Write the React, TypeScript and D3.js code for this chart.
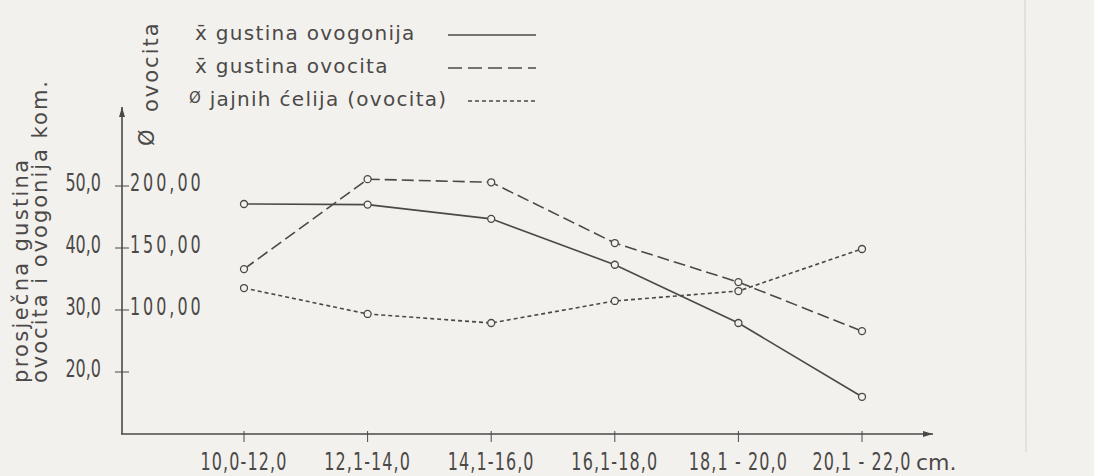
import React, { useEffect, useRef } from 'react'
import * as d3 from 'd3'

// size classes (cm) on the x axis
const categories = ['10,0-12,0', '12,1-14,0', '14,1-16,0', '16,1-18,0', '18,1 - 20,0', '20,1 - 22,0']
// mean density (kom.), left axis
const ovogonija = [47.1, 47.0, 44.7, 37.3, 27.9, 16.0]
const ovocita = [36.6, 51.1, 50.6, 40.8, 34.5, 26.6]
// mean egg cell diameter, right scale
const promjer = [117.7, 96.8, 89.5, 107.3, 115.3, 149.2]

const leftTicks = [20, 30, 40, 50]
const leftTickLabels = ['20,0', '30,0', '40,0', '50,0']
const rightTicks = [100, 150, 200]
const rightTickLabels = ['100,00', '150,00', '200,00']
const legendLabels = ['x̄ gustina ovogonija', 'x̄ gustina ovocita', 'jajnih ćelija (ovocita)']

export default function App() {
    const ref = useRef<SVGSVGElement>(null)

    useEffect(() => {
        const svg = d3.select(ref.current)
        svg.selectAll('*').remove()

        const W = 1094, H = 476
        const ink = '#4b4947'
        const paper = '#f3f1ee'
        const textFont = "'DejaVu Sans', sans-serif"
        const numFont = "'DejaVu Sans Condensed', 'DejaVu Sans', sans-serif"
        const sq = 0.74 // lettering digits are tall and narrow

        svg.append('rect').attr('width', W).attr('height', H).attr('fill', paper)
        // faint rule showing through the page
        svg.append('line').attr('x1', 1025).attr('x2', 1026).attr('y1', 0).attr('y2', 452)
            .attr('stroke', '#d9d6d2').attr('stroke-width', 1.2)

        const x = d3.scalePoint<string>().domain(categories).range([244, 862])
        const y = d3.scaleLinear().domain([10, 50]).range([434, 186])
        const yd = d3.scaleLinear().domain([0, 200]).range([434, 186])

        const defs = svg.append('defs')
        defs.append('marker')
            .attr('id', 'arrow')
            .attr('viewBox', [0, 0, 10, 6])
            .attr('refX', 10)
            .attr('refY', 3)
            .attr('markerWidth', 10)
            .attr('markerHeight', 6)
            .attr('markerUnits', 'userSpaceOnUse')
            .attr('orient', 'auto')
            .append('path')
            .attr('d', 'M0,0 L10,3 L0,6 z')
            .attr('fill', ink)

        const x0 = 122, yBase = 434
        // axes
        svg.append('path')
            .attr('d', d3.line()([[x0, yBase], [x0, 107]]))
            .attr('stroke', ink).attr('stroke-width', 1.6).attr('fill', 'none')
            .attr('marker-end', 'url(#arrow)')
        svg.append('path')
            .attr('d', d3.line()([[x0 - 1, yBase], [933, yBase]]))
            .attr('stroke', ink).attr('stroke-width', 1.6).attr('fill', 'none')
            .attr('marker-end', 'url(#arrow)')

        // x ticks + labels
        svg.selectAll('.xt').data(categories).enter().append('line')
            .attr('x1', d => x(d)!).attr('x2', d => x(d)!)
            .attr('y1', yBase - 3).attr('y2', yBase + 8)
            .attr('stroke', ink).attr('stroke-width', 1)
        svg.selectAll('.xl').data(categories).enter().append('text')
            .attr('transform', d => `translate(${x(d)},470) scale(${sq},1)`)
            .attr('text-anchor', 'middle')
            .attr('letter-spacing', 1.5)
            .style('font', `24px ${numFont}`).attr('fill', ink)
            .text(d => d)
        svg.append('text').attr('transform', `translate(916,470)`)
            .style('font', `22px ${textFont}`).attr('fill', ink).text('cm.')

        // left ticks
        svg.selectAll('.lt').data(leftTicks).enter().append('line')
            .attr('x1', x0 - 7).attr('x2', x0 + 7)
            .attr('y1', d => y(d)).attr('y2', d => y(d))
            .attr('stroke', ink).attr('stroke-width', 1)
        svg.selectAll('.ll').data(leftTicks).enter().append('text')
            .attr('transform', d => `translate(101,${y(d) + 5}) scale(${sq},1)`)
            .attr('text-anchor', 'end')
            .style('font', `24px ${numFont}`).attr('fill', ink)
            .text((d, i) => leftTickLabels[i])
        // right scale labels
        svg.selectAll('.rl').data(rightTicks).enter().append('text')
            .attr('transform', d => `translate(130,${yd(d) + 5}) scale(${sq},1)`)
            .style('font', `24px ${numFont}`).attr('fill', ink)
            .attr('letter-spacing', 4)
            .text((d, i) => rightTickLabels[i])

        // axis titles
        svg.append('text').attr('transform', 'translate(28,383) rotate(-90)')
            .style('font', `21px ${textFont}`).attr('letter-spacing', 2.3)
            .attr('fill', ink).text('prosječna gustina')
        svg.append('text').attr('transform', 'translate(47,383) rotate(-90)')
            .style('font', `21px ${textFont}`).attr('letter-spacing', 2)
            .attr('fill', ink).text('ovocita i ovogonija kom.')
        svg.append('text').attr('transform', 'translate(158,112) rotate(-90)')
            .style('font', `21px ${textFont}`).attr('letter-spacing', 2)
            .attr('fill', ink).text('ovocita')
        svg.append('text').attr('transform', 'translate(154,146) rotate(-90)')
            .style('font', `21px ${textFont}`).attr('fill', ink).text('Ø')

        // series
        const series = [
            { vals: ovogonija, sc: y, dash: null as string | null },
            { vals: ovocita, sc: y, dash: '12,5' },
            { vals: promjer, sc: yd, dash: '4,3' },
        ]
        series.forEach(s => {
            const pts: [number, number][] = s.vals.map((v, i) => [x(categories[i])!, s.sc(v)])
            const p = svg.append('path')
                .attr('d', d3.line()(pts))
                .attr('stroke', ink).attr('stroke-width', 1.6).attr('fill', 'none')
            if (s.dash) p.attr('stroke-dasharray', s.dash)
            svg.selectAll(null).data(pts).enter().append('circle')
                .attr('cx', d => d[0]).attr('cy', d => d[1]).attr('r', 3.5)
                .attr('fill', paper).attr('stroke', ink).attr('stroke-width', 1.3)
        })

        // legend
        const legY = [34, 67, 100]
        const legDash = [null, '14,6', '4,3']
        legendLabels.forEach((t, i) => {
            const tx = svg.append('text').attr('x', i === 2 ? 189 : 195).attr('y', legY[i] + 6)
                .style('font', `20px ${textFont}`).attr('letter-spacing', 1.3)
                .attr('fill', ink)
            if (i === 2) {
                tx.append('tspan').style('font-size', '15px').attr('dy', -3).text('Ø')
                tx.append('tspan').attr('dy', 3).text(' ' + t)
            } else {
                tx.text(t)
            }
            const l = svg.append('line')
                .attr('x1', i === 2 ? 468 : 448).attr('x2', 536)
                .attr('y1', legY[i] + 1).attr('y2', legY[i] + 1)
                .attr('stroke', ink).attr('stroke-width', 1.5)
            if (legDash[i]) l.attr('stroke-dasharray', legDash[i]!)
        })
    }, [])

    return (
        <div style={{ position: 'absolute', left: 0, top: 0 }}>
            <svg ref={ref} width={1094} height={476} style={{ display: 'block' }} />
        </div>
    )
}
